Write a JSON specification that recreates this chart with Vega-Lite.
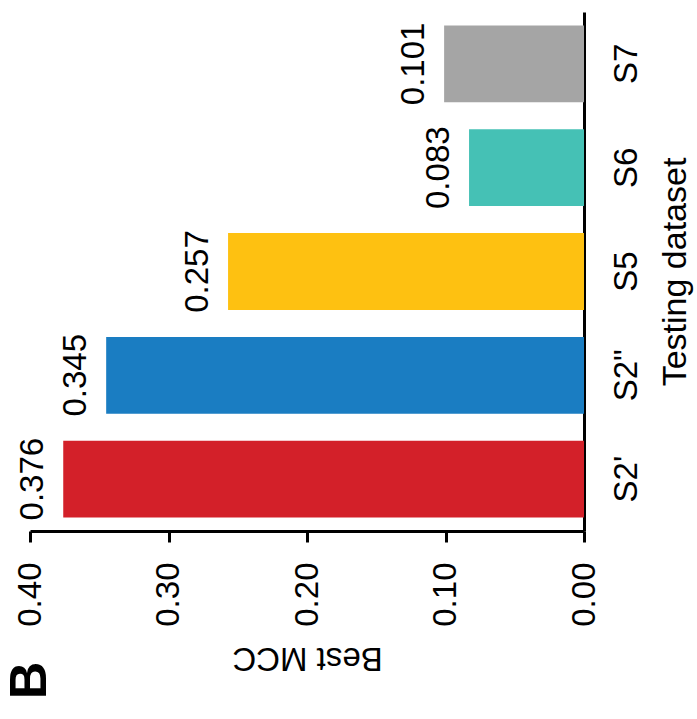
{
  "$schema": "https://vega.github.io/schema/vega-lite/v6.json",
  "width": 554,
  "height": 519,
  "autosize": {"type": "none"},
  "padding": {"left": 30, "top": 12, "right": 113, "bottom": 188},
  "background": "white",
  "config": {
    "font": "Liberation Sans",
    "view": {"stroke": null},
    "axis": {
      "grid": false,
      "domainColor": "#000000",
      "domainWidth": 3,
      "tickColor": "#000000",
      "tickWidth": 3,
      "labelColor": "#000000",
      "titleColor": "#000000",
      "titleFontWeight": "normal"
    }
  },
  "title": {
    "text": "B",
    "orient": "bottom",
    "anchor": "start",
    "frame": "group",
    "angle": -90,
    "align": "left",
    "baseline": "middle",
    "fontSize": 52,
    "fontWeight": "bold",
    "color": "#000000",
    "offset": 26
  },
  "data": {
    "values": [
      {"dataset": "S2'", "mcc": 0.376},
      {"dataset": "S2\"", "mcc": 0.345},
      {"dataset": "S5", "mcc": 0.257},
      {"dataset": "S6", "mcc": 0.083},
      {"dataset": "S7", "mcc": 0.101}
    ]
  },
  "encoding": {
    "y": {
      "field": "dataset",
      "type": "nominal",
      "sort": ["S7", "S6", "S5", "S2\"", "S2'"],
      "scale": {"paddingInner": 0.26, "paddingOuter": 0.13},
      "axis": {
        "orient": "right",
        "title": "Testing dataset",
        "ticks": false,
        "labelAngle": -90,
        "labelAlign": "center",
        "labelBaseline": "top",
        "labelPadding": 26,
        "labelFontSize": 33,
        "titleAngle": -90,
        "titleBaseline": "top",
        "titlePadding": 15,
        "titleFontSize": 34
      }
    },
    "x": {
      "field": "mcc",
      "type": "quantitative",
      "scale": {"domain": [0, 0.4], "reverse": true},
      "axis": {
        "orient": "bottom",
        "title": "Best MCC",
        "values": [0, 0.1, 0.2, 0.3, 0.4],
        "format": ".2f",
        "tickSize": 11,
        "labelAngle": -90,
        "labelAlign": "right",
        "labelBaseline": "middle",
        "labelPadding": 20,
        "labelFontSize": 33,
        "titleAngle": 180,
        "titleBaseline": "bottom",
        "titlePadding": 14,
        "titleFontSize": 33
      }
    }
  },
  "layer": [
    {
      "mark": {"type": "bar"},
      "encoding": {
        "color": {
          "field": "dataset",
          "type": "nominal",
          "scale": {
            "domain": ["S2'", "S2\"", "S5", "S6", "S7"],
            "range": ["#D32029", "#1A7DC2", "#FEC111", "#45C1B5", "#A5A5A5"]
          },
          "legend": null
        }
      }
    },
    {
      "mark": {
        "type": "text",
        "angle": -90,
        "align": "center",
        "baseline": "alphabetic",
        "dy": -20,
        "fontSize": 33,
        "color": "#000000"
      },
      "encoding": {
        "text": {"field": "mcc", "type": "quantitative", "format": ".3f"}
      }
    }
  ]
}
